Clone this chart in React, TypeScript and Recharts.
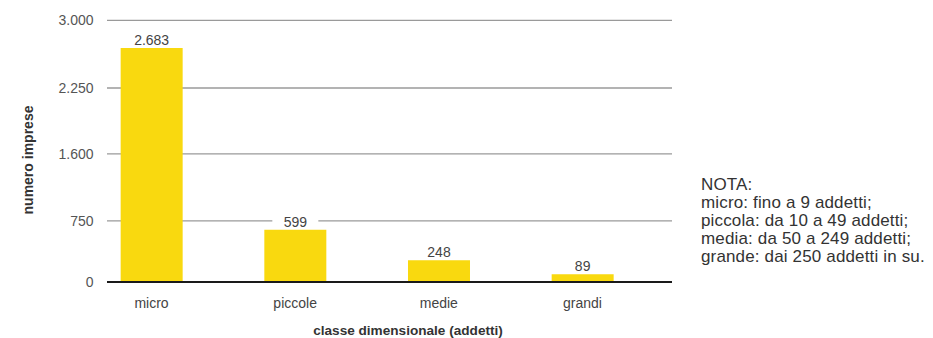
import React from "react";
import { BarChart, Bar, XAxis, YAxis, CartesianGrid, LabelList, Label } from "recharts";

const categories = ["micro", "piccole", "medie", "grandi"];
const values = [2683, 599, 248, 89];
const valueLabels = ["2.683", "599", "248", "89"];
const yTickValues = [0, 700, 1470, 2225, 3000];
const yTickLabels = ["0", "750", "1.600", "2.250", "3.000"];
const notes = [
  "NOTA:",
  "micro: fino a 9 addetti;",
  "piccola: da 10 a 49 addetti;",
  "media: da 50 a 249 addetti;",
  "grande: dai 250 addetti in su.",
];

const data = categories.map((c, i) => ({ idx: i, name: c, value: values[i], label: valueLabels[i] }));

const FONT = "'Liberation Sans', Arial, Helvetica, sans-serif";

const ValueLabel = (props: any) => {
  const { x, y, width, index } = props;
  const cx = x + width / 2;
  const text = valueLabels[index];
  const w = text.length * 8 + 22;
  return (
    <g>
      <rect x={cx - w / 2} y={y - 17} width={w} height={16} fill="#ffffff" />
      <text x={cx} y={y - 8} dy="0.35em" textAnchor="middle" fill="#444" fontSize={14} fontFamily={FONT}>
        {text}
      </text>
    </g>
  );
};

export default function App() {
  return (
    <div style={{ position: "relative", width: 925, height: 330, fontFamily: FONT }}>
      <BarChart
        width={925}
        height={330}
        data={data}
        margin={{ top: 12.4, right: 261, bottom: 0, left: 0 }}
      >
        <CartesianGrid vertical={false} stroke="#9a9a9a" strokeWidth={1.3} />
        <XAxis
          dataKey="idx"
          type="number"
          domain={[-0.3097, 3.623]}
          ticks={[0, 1, 2, 3]}
          tickFormatter={(v: number) => categories[v]}
          height={56}
          tickLine={false}
          tickSize={0}
          tickMargin={16}
          axisLine={{ stroke: "#1a1a1a", strokeWidth: 2 }}
          tick={{ fill: "#444", fontSize: 14, fontFamily: FONT }}
          allowDataOverflow
        >
          <Label
            content={() => (
              <text x={408 - 8} y={322.5} dy="0.35em" textAnchor="middle" fill="#333" fontSize={13.6} fontWeight="bold" fontFamily={FONT}>
                classe dimensionale (addetti)
              </text>
            )}
          />
        </XAxis>
        <YAxis
          width={99}
          domain={[0, 3000]}
          ticks={yTickValues}
          tickFormatter={(v: number, i: number) => yTickLabels[i]}
          axisLine={false}
          tickLine={false}
          tickSize={0}
          tickMargin={13.5}
          tick={{ fill: "#555", fontSize: 14, fontFamily: FONT }}
          interval={0}
        >
          <Label
            content={() => (
              <text
                x={20}
                y={152}
                dy="0.35em"
                textAnchor="middle"
                transform="rotate(-90 20 152)"
                fill="#333"
                fontSize={14}
                fontWeight="bold"
                fontFamily={FONT}
              >
                numero imprese
              </text>
            )}
          />
        </YAxis>
        <Bar dataKey="value" fill="#F9D90F" barSize={62} isAnimationActive={false}>
          <LabelList dataKey="value" content={ValueLabel} />
        </Bar>
      </BarChart>
      <div
        style={{
          position: "absolute",
          left: 693,
          top: 168,
          fontSize: 17,
          letterSpacing: 0.15,
          lineHeight: "18px",
          color: "#333",
          whiteSpace: "nowrap",
        }}
      >
        {notes.map((n, i) => (
          <div key={i}>{n}</div>
        ))}
      </div>
    </div>
  );
}
